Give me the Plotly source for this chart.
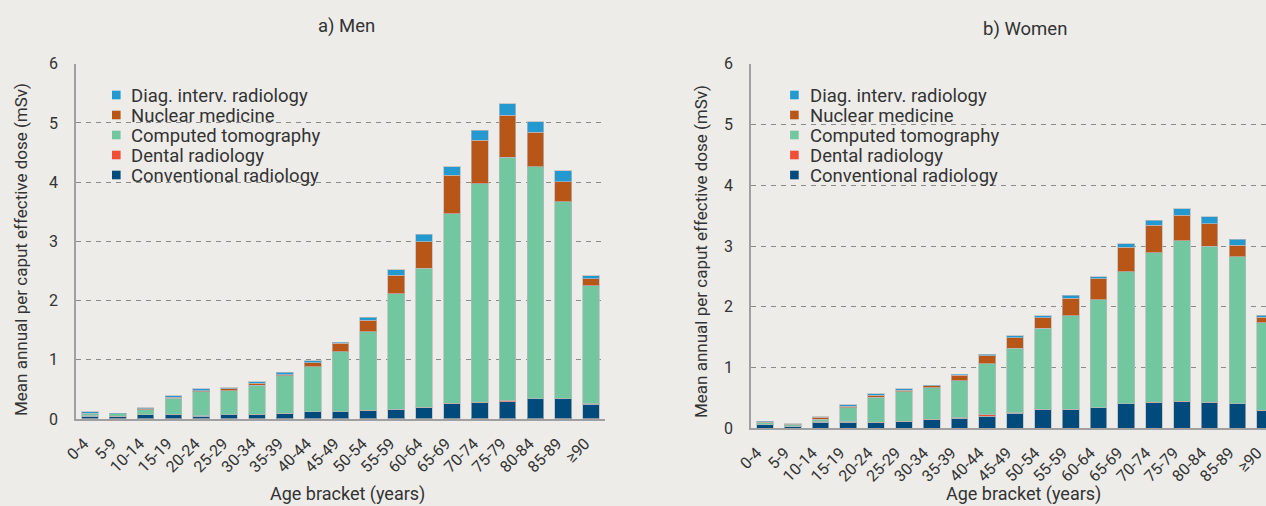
import plotly.graph_objects as go

# Age brackets shared by both panels
age_brackets = ["0-4", "5-9", "10-14", "15-19", "20-24", "25-29", "30-34", "35-39",
                "40-44", "45-49", "50-54", "55-59", "60-64", "65-69", "70-74",
                "75-79", "80-84", "85-89", "≥90"]

# Men: mean annual per caput effective dose by modality (mSv)
men_conventional = [0.05, 0.04, 0.07, 0.07, 0.05, 0.07, 0.07, 0.095, 0.12, 0.12,
                    0.146, 0.163, 0.19, 0.26, 0.275, 0.29, 0.34, 0.34, 0.25]
men_dental = [0.005, 0.005, 0.005, 0.005, 0.005, 0.005, 0.005, 0.005, 0.005, 0.005,
              0.005, 0.005, 0.005, 0.005, 0.01, 0.03, 0.005, 0.005, 0.005]
men_ct = [0.04, 0.04, 0.085, 0.275, 0.405, 0.405, 0.495, 0.63, 0.755, 1.01,
          1.32, 1.95, 2.355, 3.205, 3.685, 4.10, 3.915, 3.325, 1.995]
men_nuclear = [0.005, 0.005, 0.01, 0.02, 0.02, 0.03, 0.03, 0.02, 0.07, 0.145,
               0.2, 0.31, 0.44, 0.65, 0.74, 0.71, 0.58, 0.34, 0.12]
men_interventional = [0.02, 0.01, 0.02, 0.02, 0.03, 0.02, 0.03, 0.04, 0.03, 0.02,
                      0.05, 0.09, 0.13, 0.14, 0.17, 0.19, 0.18, 0.18, 0.05]

# Women: mean annual per caput effective dose by modality (mSv)
women_conventional = [0.055, 0.03, 0.10, 0.10, 0.095, 0.11, 0.14, 0.165, 0.20, 0.25,
                      0.31, 0.31, 0.335, 0.40, 0.42, 0.44, 0.42, 0.40, 0.29]
women_dental = [0.005, 0.005, 0.005, 0.005, 0.005, 0.005, 0.005, 0.005, 0.02, 0.005,
                0.005, 0.005, 0.005, 0.005, 0.005, 0.005, 0.005, 0.005, 0.005]
women_ct = [0.033, 0.02, 0.045, 0.235, 0.41, 0.485, 0.525, 0.61, 0.84, 1.065,
            1.335, 1.535, 1.775, 2.175, 2.46, 2.645, 2.57, 2.415, 1.445]
women_nuclear = [0.005, 0.015, 0.03, 0.02, 0.035, 0.03, 0.03, 0.09, 0.13, 0.17,
                 0.17, 0.29, 0.345, 0.40, 0.455, 0.415, 0.375, 0.19, 0.085]
women_interventional = [0.022, 0.005, 0.01, 0.025, 0.02, 0.02, 0.01, 0.02, 0.03, 0.03,
                        0.03, 0.05, 0.03, 0.06, 0.08, 0.105, 0.11, 0.10, 0.035]

y_ticks = [0, 1, 2, 3, 4, 5, 6]

modalities = ["Conventional radiology", "Dental radiology", "Computed tomography",
              "Nuclear medicine", "Diag. interv. radiology"]
colors = ["#004a7c", "#f04e37", "#72c7a0", "#b85618", "#2399d0"]

FONT = "Roboto"
TEXT = "#333333"
BG = "#edece9"
W, H = 1266, 506

fig = go.Figure()

panels = [
    ("x", "y", [men_conventional, men_dental, men_ct, men_nuclear, men_interventional]),
    ("x2", "y2", [women_conventional, women_dental, women_ct, women_nuclear, women_interventional]),
]
for xa, ya, series in panels:
    for name, vals, col in zip(modalities, series, colors):
        fig.add_trace(go.Bar(
            x=age_brackets, y=vals, name=name, xaxis=xa, yaxis=ya, showlegend=False,
            marker=dict(color=col, line=dict(color="rgba(185,185,185,0.7)", width=1)),
            hovertemplate="%{x}: %{y:.2f} mSv<extra>" + name + "</extra>",
        ))

# pixel geometry of the two plot areas
L_x0, L_x1 = 76, 605
R_x0 = 751
L_ybot, R_ybot, Y_top = 419, 428.3, 63.7
step = (L_x1 - L_x0) / 19.0


def fx(px):
    return px / W


def fy(py):
    return (H - py) / H


axis_common = dict(showline=True, linecolor="#a0a0a0", mirror=False,
                   automargin=False, fixedrange=True)
x_common = dict(axis_common, type="category", tickangle=-45, showgrid=False,
                linewidth=2, ticks="", ticklabelstandoff=7, ticklabelshift=-6,
                ticklabeloverflow="allow",
                tickmode="array", tickvals=age_brackets, ticktext=age_brackets,
                tickfont=dict(family=FONT, size=16, color=TEXT))
y_common = dict(axis_common, range=[0, 6], tickvals=y_ticks, showgrid=True,
                gridcolor="#8a8a8a", griddash="5px,5px", gridwidth=1,
                zeroline=False, linewidth=1.5, ticks="",
                tickfont=dict(family=FONT, size=16, color=TEXT),
                ticklabelstandoff=13)

# the right panel runs past the page edge; the last bracket is only partly shown
right_end = -0.5 + (W - R_x0) / step + 0.03

fig.update_layout(
    width=W, height=H,
    paper_bgcolor=BG, plot_bgcolor=BG,
    margin=dict(l=0, r=0, t=0, b=0, autoexpand=False),
    barmode="stack", bargap=0.4,
    font=dict(family=FONT, color=TEXT),
    showlegend=False,
    xaxis=dict(x_common, domain=[fx(L_x0), fx(L_x1)], anchor="y", range=[-0.5, 18.5]),
    yaxis=dict(y_common, domain=[fy(L_ybot), fy(Y_top)], anchor="x"),
    xaxis2=dict(x_common, domain=[fx(R_x0), 1.0], anchor="y2", range=[-0.5, right_end],
                ticklabelshift=-8),
    yaxis2=dict(y_common, domain=[fy(R_ybot), fy(Y_top)], anchor="x2"),
)

shapes = []
annotations = [
    dict(text="a) Men", x=fx(346), y=fy(26), font=dict(size=18.5)),
    dict(text="b) Women", x=fx(1025), y=fy(29), font=dict(size=18.5)),
    dict(text="Age bracket (years)", x=fx(347), y=fy(494), font=dict(size=18)),
    dict(text="Age bracket (years)", x=fx(1023), y=fy(494), font=dict(size=18)),
    dict(text="Mean annual per caput effective dose (mSv)", x=fx(21), y=fy(250),
         textangle=-90, font=dict(size=17)),
    dict(text="Mean annual per caput effective dose (mSv)", x=fx(701), y=fy(252),
         textangle=-90, font=dict(size=17)),
]

# legend keys, top to bottom in reverse stacking order
legend_rows = list(zip(modalities, colors))[::-1]
for swatch_x, text_x in [(116.3, 129), (794.4, 807.5)]:
    for i, (name, col) in enumerate(legend_rows):
        yc = 95 + 20 * i
        shapes.append(dict(type="rect", xref="paper", yref="paper",
                           x0=fx(swatch_x - 4.3), x1=fx(swatch_x + 4.3),
                           y0=fy(yc + 4.3), y1=fy(yc - 4.3),
                           fillcolor=col, line=dict(width=0)))
        annotations.append(dict(text=name, x=fx(text_x), y=fy(yc + 0.5),
                                xanchor="left", font=dict(size=18.5)))

for a in annotations:
    a.setdefault("xanchor", "center")
    a.update(xref="paper", yref="paper", showarrow=False, yanchor="middle")
    a["font"].update(family=FONT, color=TEXT)
fig.update_layout(annotations=annotations, shapes=shapes)

fig.write_html("out.html")
